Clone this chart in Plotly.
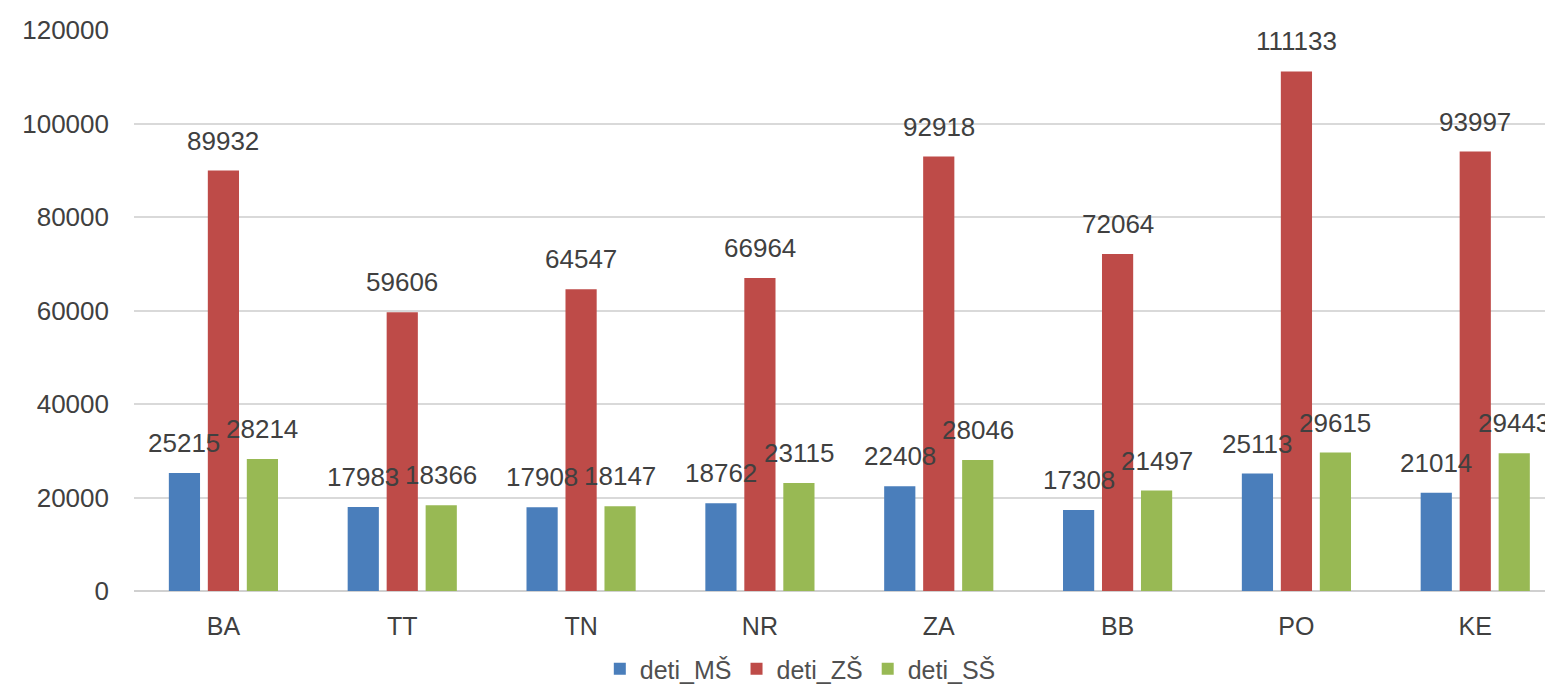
import plotly.graph_objects as go

categories = ["BA", "TT", "TN", "NR", "ZA", "BB", "PO", "KE"]
deti_MS = [25215, 17983, 17908, 18762, 22408, 17308, 25113, 21014]
deti_ZS = [89932, 59606, 64547, 66964, 92918, 72064, 111133, 93997]
deti_SS = [28214, 18366, 18147, 23115, 28046, 21497, 29615, 29443]
series_names = ["deti_MŠ", "deti_ZŠ", "deti_SŠ"]
y_ticks = [0, 20000, 40000, 60000, 80000, 100000, 120000]

colors = ["#4A7EBB", "#BE4B48", "#98B954"]
series = [deti_MS, deti_ZS, deti_SS]

W, H = 1545, 692
ML, MR, MT, MB = 134, 0, 30, 101
x_range = [-0.5, 7.39]
bargap = 0.346
cat_px = (W - ML - MR) / (x_range[1] - x_range[0])
slot_px = (1 - bargap) * cat_px / 3

FONT = "Liberation Sans, Arial, sans-serif"
TXT = "#404040"

fig = go.Figure()
for name, vals, col in zip(series_names, series, colors):
    fig.add_trace(go.Bar(x=categories, y=vals, name=name, marker=dict(color=col, line=dict(width=0))))

annotations = []
for i, vals in enumerate(series):
    for c, v in zip(categories, vals):
        annotations.append(dict(
            x=c, y=v, xref="x", yref="y", text=str(v), showarrow=False,
            xanchor="center", yanchor="bottom", xshift=(i - 1) * slot_px, yshift=13,
            font=dict(family=FONT, size=26, color=TXT),
        ))

fig.update_layout(
    width=W, height=H,
    margin=dict(l=ML, r=MR, t=MT, b=MB, pad=0),
    paper_bgcolor="white", plot_bgcolor="white",
    barmode="group", bargap=bargap, bargroupgap=0.2,
    font=dict(family=FONT, size=26, color=TXT),
    annotations=annotations,
    showlegend=True,
    legend=dict(orientation="h", xref="container", yref="container",
                x=0.518, xanchor="center", y=-0.028, yanchor="bottom",
                font=dict(family=FONT, size=25, color="#505050"),
                itemwidth=30, tracegroupgap=0, bgcolor="rgba(0,0,0,0)"),
    xaxis=dict(range=x_range, showgrid=False, showline=False, zeroline=False,
               ticks="", ticklabelstandoff=18, tickfont=dict(size=25, color=TXT)),
    yaxis=dict(range=[0, 120000], tickvals=y_ticks, ticktext=[str(t) for t in y_ticks],
               showgrid=True, gridcolor="#D9D9D9", gridwidth=2,
               zeroline=True, zerolinecolor="#D0D0D0", zerolinewidth=2,
               showline=False, ticks="", ticklabelstandoff=24,
               tickfont=dict(size=26, color=TXT)),
)

fig.write_html(
    "out.html",
    config={"displayModeBar": False},
    post_script="document.body.style.margin='0';document.body.style.overflow='hidden';",
)
